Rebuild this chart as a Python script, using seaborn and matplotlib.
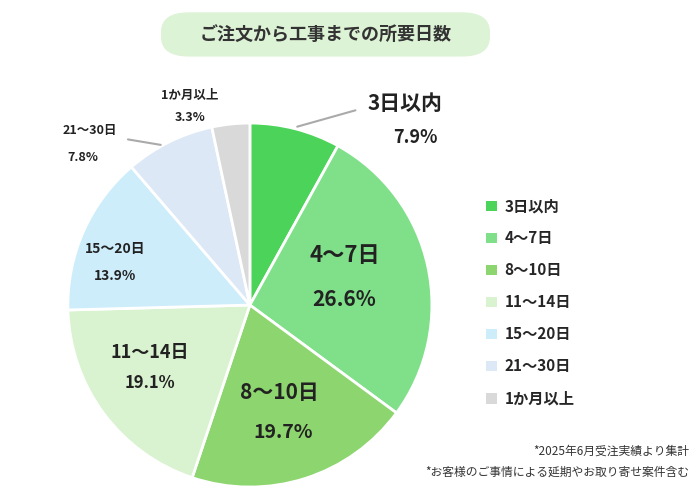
import matplotlib
matplotlib.use("Agg")
import matplotlib.pyplot as plt
import seaborn as sns
from matplotlib.patches import FancyBboxPatch, Patch

sns.set_theme(style="white")
plt.rcParams['font.family'] = ['Noto Sans CJK JP', 'DejaVu Sans']

labels = ["3日以内", "4～7日", "8～10日", "11～14日", "15～20日", "21～30日", "1か月以上"]
values = [7.9, 26.6, 19.7, 19.1, 13.9, 7.8, 3.3]
colors = ["#4cd35a", "#80e08a", "#8dd56f", "#d9f3d0", "#cdedfb", "#dde8f6", "#d9d9d9"]

fig = plt.figure(figsize=(7, 4.92), dpi=100)
ax = fig.add_axes([0.097, 0.01, 0.52, 0.74])
ax.pie(values, colors=colors, startangle=90, counterclock=False,
       wedgeprops=dict(edgecolor="white", linewidth=2))
ax.set_xlim(-1, 1); ax.set_ylim(-1, 1)

# label positions (data coords), font size
pos = [((0.85, 1.11), (0.91, 0.92), 15, 13),
       ((0.52, 0.27), (0.52, 0.03), 16, 15),
       ((0.16, -0.48), (0.18, -0.70), 15, 14),
       ((-0.55, -0.26), (-0.55, -0.43), 13, 12),
       ((-0.74, 0.31), (-0.74, 0.16), 10, 10),
       ((-0.88, 0.96), (-0.92, 0.81), 9, 9),
       ((-0.33, 1.15), (-0.33, 1.03), 9, 9)]
for lab, v, (p1, p2, s1, s2) in zip(labels, values, pos):
    ax.text(*p1, lab, ha="center", va="center", fontsize=s1, fontweight="bold", color="#222", clip_on=False)
    ax.text(*p2, f"{v}%", ha="center", va="center", fontsize=s2, fontweight="bold", color="#222", clip_on=False)
ax.plot([0.26, 0.58], [0.98, 1.07], color="#aaa", lw=1.5, clip_on=False)
ax.plot([-0.67, -0.49], [0.91, 0.88], color="#aaa", lw=1.5, clip_on=False)

# title box
fig.patches.append(FancyBboxPatch((0.23, 0.885), 0.47, 0.09, boxstyle="round,pad=0,rounding_size=0.04",
                                  transform=fig.transFigure, facecolor="#ddf3d6", edgecolor="none"))
fig.text(0.465, 0.93, "ご注文から工事までの所要日数", ha="center", va="center", fontsize=13, fontweight="bold", color="#333")

handles = [Patch(facecolor=c, edgecolor="none") for c in colors]
fig.legend(handles, labels, loc="upper left", bbox_to_anchor=(0.675, 0.625), frameon=False,
           prop=dict(size=11, weight="bold"), handlelength=0.7, handleheight=0.7, labelspacing=1.05,
           handletextpad=0.5)

fig.text(0.985, 0.075, "*2025年6月受注実績より集計", ha="right", fontsize=8.5, color="#333")
fig.text(0.985, 0.033, "*お客様のご事情による延期やお取り寄せ案件含む", ha="right", fontsize=8.5, color="#333")

fig.savefig("out.png", dpi=100)
